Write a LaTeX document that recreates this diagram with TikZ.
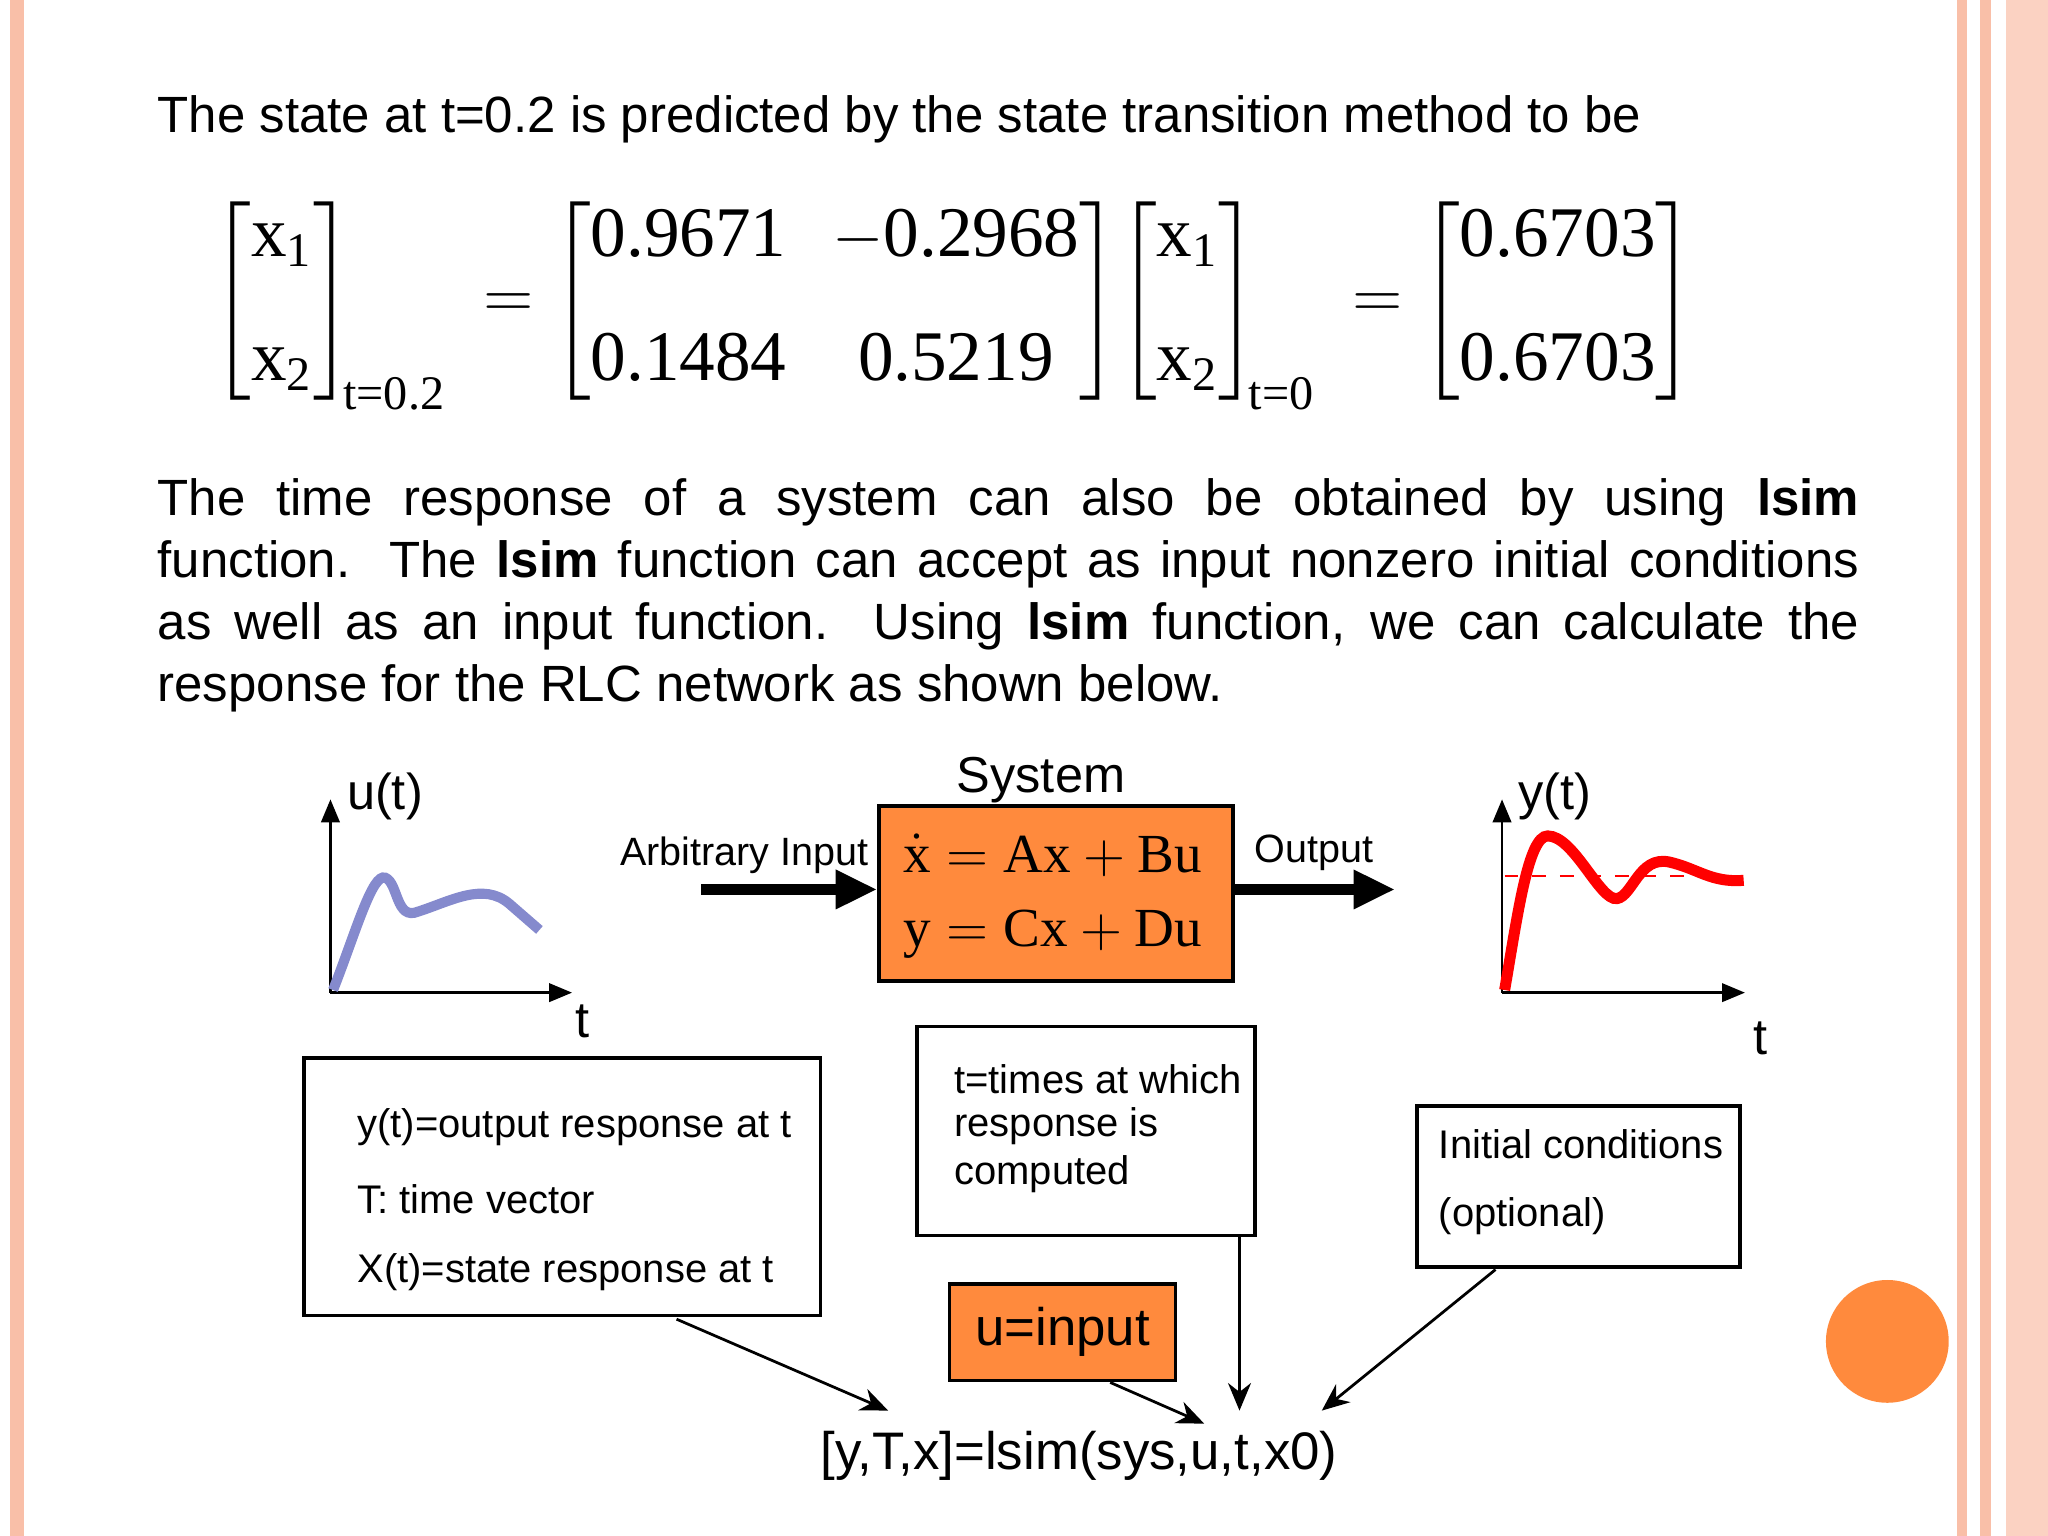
\documentclass[tikz,border=0pt]{standalone}
\usepackage{amsmath}
\usepackage{fontspec}
\setmainfont{Liberation Sans}
\newfontfamily\tnr{Liberation Serif}
\newcommand\tr[1]{\text{\tnr #1}}
\usetikzlibrary{arrows.meta}
\definecolor{org}{HTML}{FF8A3D}
\definecolor{salm}{HTML}{F9BFA8}
\tikzset{
 txt/.style={inner sep=0pt,anchor=west,font=\fontsize{10}{12}\selectfont},
 lbox/.style={draw,thick,inner sep=0pt},
 obox/.style={draw,thick,fill=org,inner sep=0pt},
 ptr/.style={-{Stealth[length=6pt,width=5pt]},semithick},
 bigarr/.style={-{Triangle[length=9pt,width=8pt]},line width=2.2pt},
 axis/.style={-{Triangle[length=5pt,width=4pt]},semithick}
}
\begin{document}
\begin{tikzpicture}[x=0.01cm,y=-0.01cm]
\useasboundingbox (0,0) rectangle (1568,1176);
\fill[salm] (8,0) rectangle (18,1176);
\fill[salm] (1498,0) rectangle (1506,1176);
\fill[salm] (1516,0) rectangle (1524,1176);
\fill[salm!70] (1536,0) rectangle (1568,1176);
\fill[org] (1445,1027) circle (47);
\node[txt,font=\fontsize{11.1}{13}\selectfont] (l1) at (120,91) {The state at t=0.2 is predicted by the state transition method to be};
\node (eq) at (730,232) {\fontsize{15.5}{19}\selectfont$\begin{bmatrix}\tr{x}_{\tr{\fontsize{10.5}{12}\selectfont 1}}\\[8pt] \tr{x}_{\tr{\fontsize{10.5}{12}\selectfont 2}}\end{bmatrix}_{\!\tr{\fontsize{10.5}{12}\selectfont t=0.2}}
\;=\begin{bmatrix}\tr{0.9671} & -\tr{0.2968}\\[8pt] \tr{0.1484} & \tr{0.5219}\end{bmatrix}\!\begin{bmatrix}\tr{x}_{\tr{\fontsize{10.5}{12}\selectfont 1}}\\[8pt] \tr{x}_{\tr{\fontsize{10.5}{12}\selectfont 2}}\end{bmatrix}_{\!\tr{\fontsize{10.5}{12}\selectfont t=0}}
\;=\begin{bmatrix}\tr{0.6703}\\[8pt] \tr{0.6703}\end{bmatrix}$};
\node[txt,anchor=north west,text width=13.02cm,align=justify,font=\fontsize{11.1}{13.5}\selectfont] (par) at (120,366) {The time response of a system can also be obtained by using \textbf{lsim}\linebreak function.\ \ The \textbf{lsim} function can accept as input nonzero initial conditions\linebreak as well as an input function. Using \textbf{lsim} function, we can calculate the\linebreak response for the RLC network as shown below.};
% u(t) plot
\coordinate (uo) at (253,760); \coordinate (uy) at (253,612); \coordinate (ux) at (438,760);
\draw[axis] (uo) -- (uy); \draw[axis] (uo) -- (ux);
\draw[line width=2.2pt,draw=cyan!20!blue!50] (255,758) .. controls (272,715) and (285,668) .. (295,672) .. controls (305,676) and (303,705) .. (320,698) .. controls (345,690) and (370,675) .. (390,692) -- (413,712);
\node[txt,font=\fontsize{11}{13}\selectfont] (ul) at (265,610) {u(t)};
\node[txt,font=\fontsize{11}{13}\selectfont] (ut) at (440,782) {t};
% y(t) plot
\coordinate (yo) at (1150,760); \coordinate (yy) at (1150,612); \coordinate (yx) at (1336,760);
\draw[axis] (yo) -- (yy); \draw[axis] (yo) -- (yx);
\draw[red,dashed] (1152,671) -- (1335,671);
\draw[red,line width=2.4pt] (1152,758) .. controls (1162,700) and (1170,640) .. (1185,640) .. controls (1205,640) and (1225,690) .. (1238,688) .. controls (1250,686) and (1255,655) .. (1278,660) .. controls (1300,665) and (1310,676) .. (1335,674);
\node[txt,font=\fontsize{11}{13}\selectfont] (yl) at (1162,610) {y(t)};
\node[txt,font=\fontsize{11}{13}\selectfont] (yt) at (1342,795) {t};
% system
\node[obox,minimum width=2.71cm,minimum height=1.34cm] (sys) at (808.5,684) {};
\node (e1) at (806,655) {\fontsize{12}{16}\selectfont$\dot{\tr{x}}=\tr{Ax}+\tr{Bu}$};
\node (e2) at (806,715) {\fontsize{12}{16}\selectfont$\tr{y}=\tr{Cx}+\tr{Du}$};
\node[inner sep=0pt,font=\fontsize{11}{13}\selectfont] (st) at (797,597) {System};
\coordinate (ain) at (537,681);
\draw[bigarr] (ain) -- (sys.west|-ain);
\coordinate (aout) at (1068,681);
\draw[bigarr] (sys.east|-aout) -- (aout);
\node[inner sep=0pt,font=\fontsize{8.6}{10}\selectfont] (ail) at (570,655) {Arbitrary Input};
\node[inner sep=0pt,font=\fontsize{8.6}{10}\selectfont] (aol) at (1006,653) {Output};
% boxes
\node[lbox,minimum width=3.95cm,minimum height=1.97cm] (b1) at (430.5,908.5) {};
\node[txt,font=\fontsize{8.7}{10}\selectfont] at (273,863) {y(t)=output response at t};
\node[txt,font=\fontsize{8.7}{10}\selectfont] at (273,918) {T: time vector};
\node[txt,font=\fontsize{8.7}{10}\selectfont] at (273,974) {X(t)=state response at t};
\node[lbox,minimum width=2.59cm,minimum height=1.6cm] (b2) at (831.5,866) {};
\node[txt,font=\fontsize{8.7}{10}\selectfont] at (730,826) {t=times at which};
\node[txt,font=\fontsize{8.7}{10}\selectfont] at (730,862) {response is};
\node[txt,font=\fontsize{8.7}{10}\selectfont] at (730,899) {computed};
\node[lbox,minimum width=2.47cm,minimum height=1.23cm] (b3) at (1208.5,908.5) {};
\node[txt,font=\fontsize{8.7}{10}\selectfont] at (1101,876) {Initial conditions};
\node[txt,font=\fontsize{8.7}{10}\selectfont] at (1101,931) {(optional)};
\node[obox,minimum width=1.73cm,minimum height=0.74cm,font=\fontsize{11.5}{13}\selectfont] (ui) at (813.5,1020) {u=input};
\node[inner sep=0pt,font=\fontsize{11.5}{13}\selectfont] (cmd) at (826,1115) {[y,T,x]=lsim(sys,u,t,x0)};
\coordinate (p1) at (680,1080); \coordinate (p2) at (922,1090);
\coordinate (p3) at (949,1080); \coordinate (p4) at (1012,1080);
\draw[ptr] (518,1010) -- (p1);
\draw[ptr] (ui.south -| 850,0) -- (p2);
\draw[ptr] (b2.south -| 949,0) -- (p3);
\draw[ptr] (1145,972) -- (p4);
\end{tikzpicture}
\end{document}
